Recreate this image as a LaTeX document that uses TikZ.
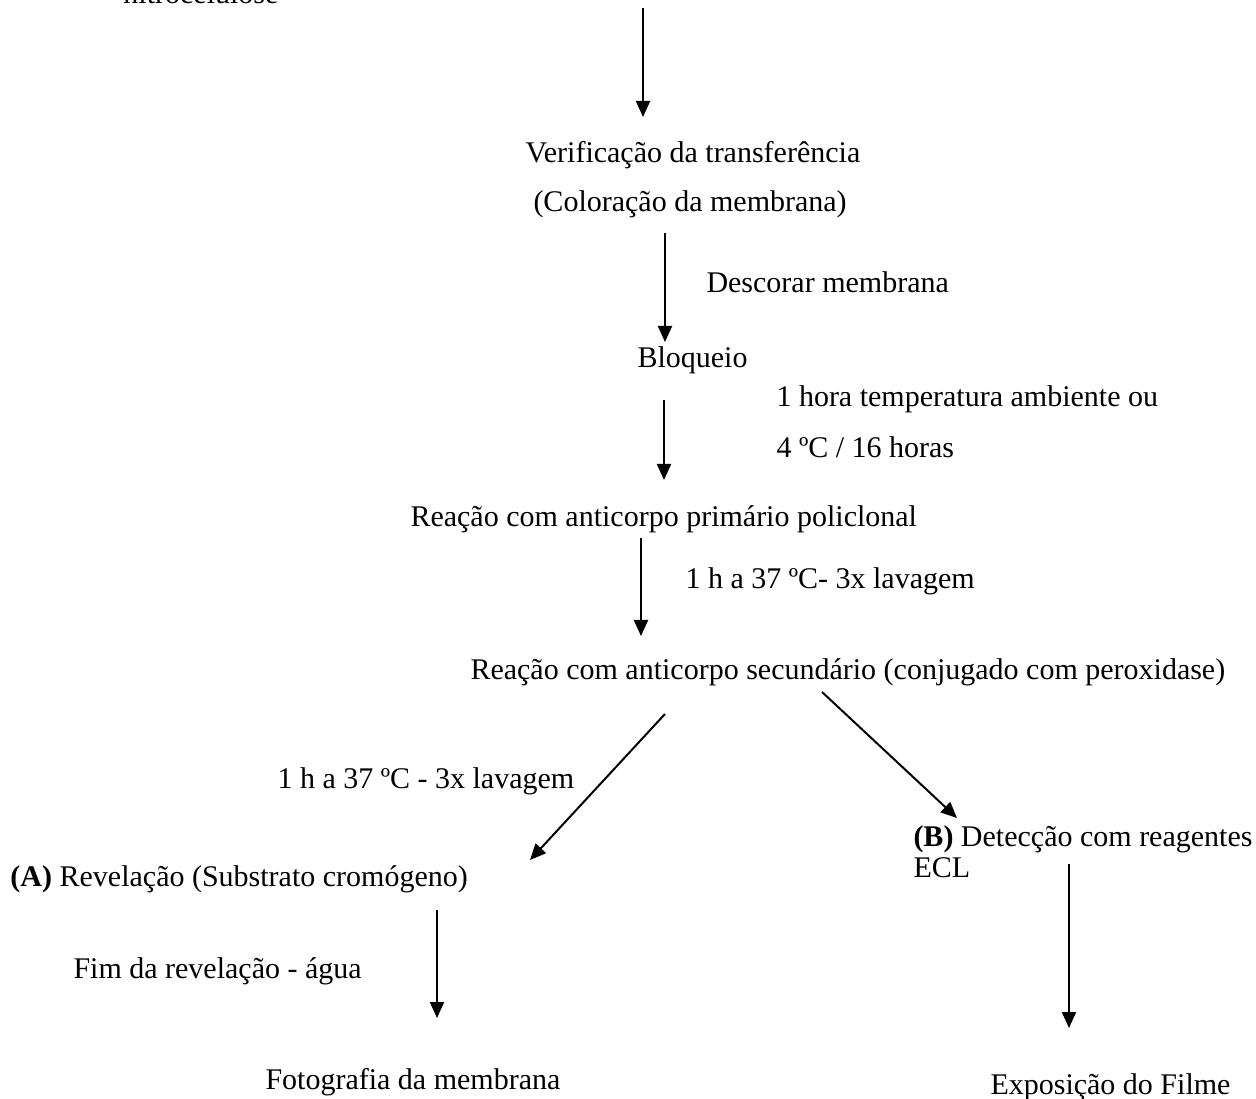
\documentclass[tikz,border=0pt]{standalone}
\usepackage{fontspec}
\setmainfont{Liberation Serif}
\usetikzlibrary{arrows.meta}

\tikzset{
  txt/.style={inner sep=0pt, anchor=base west, font=\fontsize{12}{14}\selectfont},
  seta/.style={line width=0.8pt, -{Triangle[width=5.6pt,length=6.4pt]}}
}

\begin{document}
\begin{tikzpicture}[x=0.4pt, y=-0.4pt]
    \useasboundingbox (0,0) rectangle (1256,1099);

    % steps
    \node[txt] (nitro) at (123,4) {nitrocelulose};
    \node[txt] (verif) at (525,163) {Verificação da transferência};
    \node[txt] (color) at (533,212) {(Coloração da membrana)};
    \node[txt] (desc) at (706,293) {Descorar membrana};
    \node[txt] (bloq) at (637,368) {Bloqueio};
    \node[txt] (hora1) at (776,407) {1 hora temperatura ambiente ou};
    \node[txt] (hora2) at (776,458) {4 ºC / 16 horas};
    \node[txt] (prim) at (410,527) {Reação com anticorpo primário policlonal};
    \node[txt] (lav1) at (685,589) {1 h a 37 ºC- 3x lavagem};
    \node[txt] (sec) at (470,679) {Reação com anticorpo secundário (conjugado com peroxidase)};
    \node[txt] (lav2) at (277,789) {1 h a 37 ºC - 3x lavagem};
    \node[txt] (revA) at (10,886) {\textbf{(A)} Revelação (Substrato cromógeno)};
    \node[txt] (fim) at (73,978) {Fim da revelação - água};
    \node[txt] (foto) at (265,1089) {Fotografia da membrana};
    \node[txt] (detB) at (913,846) {\textbf{(B)} Detecção com reagentes};
    \node[txt] (ecl) at (913,877) {ECL};
    \node[txt] (expo) at (990,1094) {Exposição do Filme};

    % arrow ends
    \coordinate (a1s) at (643,8);    \coordinate (a1e) at (643,117);
    \coordinate (a2s) at (665,233);  \coordinate (a2e) at (665,342);
    \coordinate (a3s) at (664,400);  \coordinate (a3e) at (664,480);
    \coordinate (a4s) at (641,538);  \coordinate (a4e) at (641,636);
    \coordinate (dls) at (665,714);  \coordinate (dle) at (530,860);
    \coordinate (drs) at (822,692);  \coordinate (dre) at (957,818);
    \coordinate (aAs) at (437,910);  \coordinate (aAe) at (437,1018);
    \coordinate (aBs) at (1069,864); \coordinate (aBe) at (1069,1028);

    \draw[seta] (a1s) -- (a1e);
    \draw[seta] (a2s) -- (a2e);
    \draw[seta] (a3s) -- (a3e);
    \draw[seta] (a4s) -- (a4e);
    \draw[seta] (dls) -- (dle);
    \draw[seta] (drs) -- (dre);
    \draw[seta] (aAs) -- (aAe);
    \draw[seta] (aBs) -- (aBe);
\end{tikzpicture}
\end{document}
